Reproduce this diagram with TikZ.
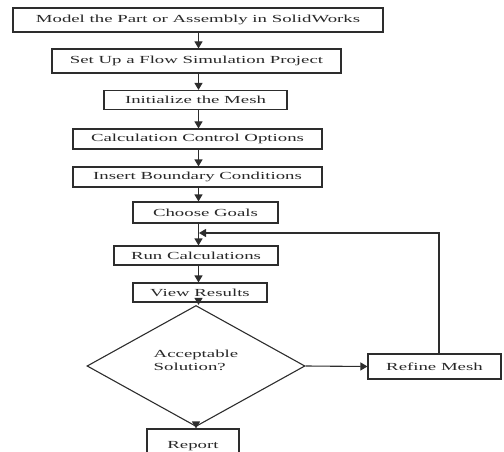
\documentclass[tikz,border=0pt]{standalone}
\usepackage{fontspec}
\setmainfont{Liberation Serif}[FakeStretch=1.74]
\usepackage{tikz}
\usetikzlibrary{arrows.meta,shapes.geometric,positioning}
\usepackage{xcolor}
\definecolor{fcline}{RGB}{45,45,45}
\definecolor{fctext}{RGB}{40,40,40}
\tikzstyle{arrow} = [line width=1.1pt,-{Triangle[length=7pt,width=8pt]},color=fcline]
\tikzstyle{process} = [rectangle, inner sep=1pt, text centered, draw=fcline, line width=1.1pt, text=fctext, font=\fontsize{10.8}{12}\selectfont]
\tikzstyle{decision} = [diamond, inner sep=1pt, align=left, draw=fcline, line width=1.1pt, text=fctext, font=\fontsize{10.8}{13}\selectfont]

\begin{document}
\begin{tikzpicture}[x=1pt,y=-1pt]
\clip (0,0) rectangle (504,452);
% Main column
\node[process, minimum width=370pt, minimum height=24pt] (model) at (198,20) {Model the Part or Assembly in SolidWorks};
\node[process, minimum width=289pt, minimum height=24pt] (setup) at (196.5,61) {Set Up a Flow Simulation Project};
\node[process, minimum width=183pt, minimum height=19pt] (mesh) at (195.5,100) {Initialize the Mesh};
\node[process, minimum width=249pt, minimum height=20pt] (control) at (197.5,139) {Calculation Control Options};
\node[process, minimum width=249pt, minimum height=20pt] (boundary) at (197.5,177) {Insert Boundary Conditions};
\node[process, minimum width=145pt, minimum height=21pt] (goals) at (205.5,212.5) {Choose Goals};
\node[process, minimum width=164pt, minimum height=19pt] (run) at (196,255.5) {Run Calculations};
\node[process, minimum width=134pt, minimum height=19pt] (results) at (200,292.5) {View Results};

% Decision and its branches
\node[decision, minimum width=218pt, minimum height=80pt, text depth=12pt] (accept) at (196,366) {Acceptable\\Solution?};
\node[process, minimum width=133pt, minimum height=25pt] (refine) at (434.5,366.5) {Refine Mesh};
\node[process, minimum width=92pt, minimum height=34pt] (report) at (193,446) {Report};

\coordinate (spine) at (198.5,0);
\coordinate (join) at (199,233);

% Arrows
\draw[arrow] (model.south -| spine) -- (setup.north -| spine);
\draw[arrow] (setup.south -| spine) -- (mesh.north -| spine);
\draw[arrow] (mesh.south -| spine) -- (control.north -| spine);
\draw[arrow] (control.south -| spine) -- (boundary.north -| spine);
\draw[arrow] (boundary.south -| spine) -- (goals.north -| spine);
\draw[arrow] (goals.south -| spine) -- (run.north -| spine);
\draw[arrow] (run.south -| spine) -- (results.north -| spine);
\draw[arrow] (results.south -| spine) -- (accept.north -| spine);
\draw[arrow] (accept.east) -- (refine.west);
\draw[arrow] (accept.south) -- (accept.south |- report.north);
\draw[arrow] ([xshift=4.5pt]refine.north) |- (join);
\end{tikzpicture}
\end{document}
